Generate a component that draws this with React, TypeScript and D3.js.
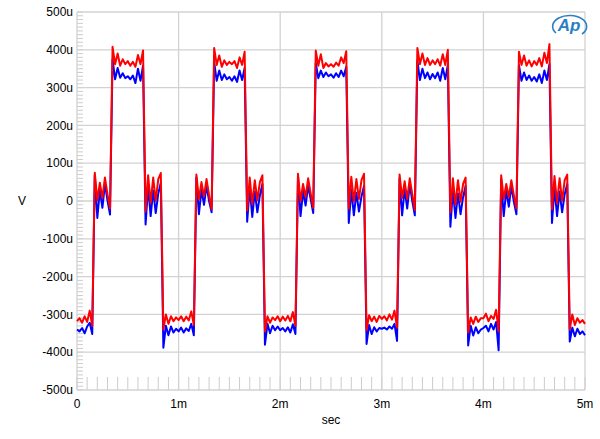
import React from 'react';
import * as d3 from 'd3';

// sample clock of the captured trace (ms)
const sampleStepMs = 0.025;

// Red channel, µV — one line per 1 ms period (40 samples), plus the final sample
const redUv = [
  -318, -310, -322, -305, -320, -290, -330, 75, 2, 48, 8, 62, 18, -20, 408, 362, 390, 358, 375, 362, 370, 358, 368, 355, 386, 362, 398, -28, 68, -5, 62, 0, 58, 74, -340, -300, -325, -305, -318, -308,
  -315, -305, -318, -306, -316, -292, -328, 70, 5, 50, 12, 58, 15, -22, 405, 360, 385, 355, 372, 360, 368, 362, 370, 352, 380, 360, 395, -25, 62, -8, 55, 2, 50, 68, -345, -305, -322, -308, -315, -305,
  -318, -306, -316, -304, -318, -294, -330, 72, 0, 45, 10, 60, 20, -18, 398, 358, 388, 352, 365, 356, 362, 355, 366, 358, 380, 365, 396, -20, 64, -2, 58, 5, 55, 72, -342, -302, -318, -306, -320, -304,
  -312, -305, -316, -300, -314, -290, -335, 70, 8, 52, 5, 60, 18, -24, 405, 362, 390, 360, 378, 360, 372, 362, 375, 358, 388, 360, 400, -30, 60, -10, 55, -2, 45, 62, -348, -308, -325, -306, -320, -310,
  -310, -298, -318, -304, -312, -288, -345, 68, 5, 45, 10, 55, 15, -20, 395, 360, 385, 358, 372, 356, 370, 360, 378, 356, 392, 365, 415, -22, 66, -5, 60, 0, 55, 70, -340, -300, -328, -310, -322, -315,
  -325,
];

// Blue channel, µV
const blueUv = [
  -340, -345, -336, -350, -332, -322, -352, 68, -45, 28, -18, 45, 2, -36, 375, 322, 352, 326, 338, 325, 330, 322, 332, 312, 350, 318, 358, -62, 38, -40, 28, -32, 20, 48, -388, -330, -355, -332, -348, -338,
  -345, -335, -348, -337, -344, -325, -355, 62, -35, 30, -10, 42, 0, -30, 368, 318, 345, 320, 335, 322, 328, 318, 330, 315, 345, 320, 352, -55, 35, -42, 25, -30, 15, 45, -380, -325, -350, -330, -342, -332,
  -342, -336, -345, -334, -348, -326, -352, 65, -40, 25, -12, 40, 5, -32, 365, 325, 345, 328, 340, 330, 335, 326, 338, 328, 345, 330, 355, -58, 30, -38, 22, -28, 12, 40, -378, -328, -352, -334, -345, -336,
  -338, -335, -340, -332, -338, -325, -370, 60, -38, 32, -20, 44, 0, -38, 372, 320, 350, 325, 340, 322, 336, 325, 340, 318, 352, 322, 360, -68, 28, -45, 20, -35, 10, 40, -382, -330, -356, -334, -350, -340,
  -336, -330, -345, -325, -340, -320, -395, 58, -40, 28, -15, 40, -2, -35, 360, 318, 340, 320, 332, 318, 328, 316, 335, 312, 345, 320, 362, -58, 35, -40, 25, -30, 18, 45, -372, -335, -358, -338, -352, -345,
  -355,
];

const xTicks = [0, 1, 2, 3, 4, 5];
const yTicks = [-500, -400, -300, -200, -100, 0, 100, 200, 300, 400, 500];

const W = 600;
const H = 439;
const plot = { left: 77, right: 585, top: 12, bottom: 390 };
const font = '"Liberation Sans", Arial, sans-serif';
const gridColor = '#d2d2d2';

export default function App() {
  const x = d3.scaleLinear().domain([0, 5]).range([plot.left, plot.right]);
  const y = d3.scaleLinear().domain([-500, 500]).range([plot.bottom, plot.top]);

  const line = d3
    .line<number>()
    .x((_, i) => x(i * sampleStepMs))
    .y(d => y(d));

  const minorY = d3.range(-500, 501, 10);
  const minorX = d3.range(0, 5.0001, 0.1).map(v => +v.toFixed(1));

  const fmtX = (v: number) => (v === 0 ? '0' : `${v}m`);
  const fmtY = (v: number) => (v === 0 ? '0' : `${v}u`);

  return (
    <svg
      width={W}
      height={H}
      style={{ position: 'absolute', left: 0, top: 0, background: '#fff' }}
      fontFamily={font}
    >
      {/* minor ticks */}
      {minorY.map(v => (
        <line key={'my' + v} x1={plot.left} x2={plot.left + 6} y1={y(v)} y2={y(v)} stroke="#cccccc" strokeWidth={1} />
      ))}
      {minorX.map(v => (
        <line key={'mx' + v} x1={x(v)} x2={x(v)} y1={plot.bottom} y2={plot.bottom - 13} stroke="#cccccc" strokeWidth={1} />
      ))}

      {/* grid */}
      {yTicks.map(v => (
        <line key={'gy' + v} x1={plot.left} x2={plot.right} y1={y(v)} y2={y(v)} stroke={gridColor} strokeWidth={1.3} />
      ))}
      {xTicks.map(v => (
        <line key={'gx' + v} x1={x(v)} x2={x(v)} y1={plot.top} y2={plot.bottom} stroke={gridColor} strokeWidth={1.3} />
      ))}

      {/* traces */}
      <path d={line(blueUv) ?? ''} fill="none" stroke="#0000ff" strokeWidth={2} strokeLinejoin="round" />
      <path d={line(redUv) ?? ''} fill="none" stroke="#ff0000" strokeWidth={2} strokeLinejoin="round" />

      {/* axis labels */}
      {yTicks.map(v => (
        <text key={'ty' + v} x={plot.left - 4} y={y(v)} dy="0.35em" textAnchor="end" fontSize={12} fill="#000">
          {fmtY(v)}
        </text>
      ))}
      {xTicks.map(v => (
        <text key={'tx' + v} x={x(v)} y={plot.bottom + 18} textAnchor="middle" fontSize={12} fill="#000">
          {fmtX(v)}
        </text>
      ))}
      <text x={22} y={y(0)} dy="0.35em" textAnchor="middle" fontSize={12}>V</text>
      <text x={(plot.left + plot.right) / 2} y={424} textAnchor="middle" fontSize={12}>sec</text>

      {/* AP logo */}
      <g transform="translate(570,25)">
        <path d="M -14 8 A 17 11 0 1 1 12 9" fill="none" stroke="#2a7fc4" strokeWidth={1.6} />
        <text x={-1} y={6} textAnchor="middle" fontSize={17} fontStyle="italic" fontWeight="bold" fill="#2a7fc4">
          Ap
        </text>
      </g>
    </svg>
  );
}
